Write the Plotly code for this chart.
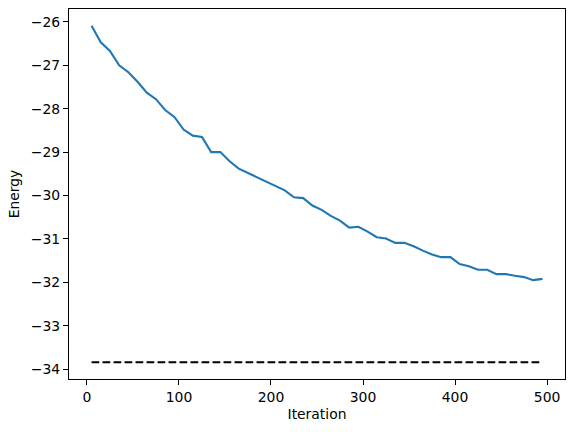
import plotly.graph_objects as go

iterations = list(range(5, 500, 10))
energy = [
    -26.09, -26.47, -26.67, -27.00, -27.16, -27.38, -27.63, -27.78, -28.03, -28.19,
    -28.48, -28.62, -28.65, -29.00, -29.00, -29.21, -29.38, -29.48, -29.58, -29.67,
    -29.77, -29.88, -30.04, -30.06, -30.23, -30.33, -30.47, -30.58, -30.74, -30.72,
    -30.83, -30.96, -30.99, -31.09, -31.09, -31.17, -31.27, -31.36, -31.42, -31.42,
    -31.58, -31.63, -31.71, -31.71, -31.81, -31.81, -31.85, -31.88, -31.95, -31.92,
]
reference_energy = -33.84
y_ticks = [-26, -27, -28, -29, -30, -31, -32, -33, -34]
x_ticks = [0, 100, 200, 300, 400, 500]

font_family = "DejaVu Sans"

fig = go.Figure()
fig.add_trace(go.Scatter(
    x=iterations, y=energy, mode="lines",
    line=dict(color="#1f77b4", width=2.1),
    showlegend=False, hoverinfo="skip",
))
fig.add_trace(go.Scatter(
    x=[iterations[0], iterations[-1]], y=[reference_energy, reference_energy],
    mode="lines",
    line=dict(color="black", width=2.1, dash="7.7px,3.3px"),
    showlegend=False, hoverinfo="skip",
))

xmin, xmax = iterations[0], iterations[-1]
dx = (xmax - xmin) * 0.05
ymax = max(energy)
ymin = min(min(energy), reference_energy)
dy = (ymax - ymin) * 0.05

fig.update_layout(
    width=574, height=432,
    margin=dict(l=69, r=9, t=9, b=53),
    paper_bgcolor="white", plot_bgcolor="white",
    font=dict(family=font_family, size=13.9, color="black"),
    xaxis=dict(
        range=[xmin - dx, xmax + dx],
        tickvals=x_ticks, ticktext=[str(v) for v in x_ticks],
        ticks="outside", ticklen=5, tickwidth=1.1, tickcolor="black",
        showline=True, mirror=True, linecolor="black", linewidth=1.1,
        showgrid=False, zeroline=False,
        title=dict(text="Iteration", standoff=5, font=dict(size=13.9)),
        automargin=False,
    ),
    yaxis=dict(
        range=[ymin - dy, ymax + dy],
        tickvals=y_ticks, ticktext=["\u2212" + str(abs(v)) for v in y_ticks],
        ticks="outside", ticklen=5, tickwidth=1.1, tickcolor="black",
        showline=True, mirror=True, linecolor="black", linewidth=1.1,
        showgrid=False, zeroline=False,
        title=dict(text="Energy", standoff=7, font=dict(size=13.9)),
        automargin=False,
    ),
)

fig.write_html(
    "out.html",
    config={"displayModeBar": False},
    post_script="document.body.style.margin='0';document.body.style.padding='0';",
)
